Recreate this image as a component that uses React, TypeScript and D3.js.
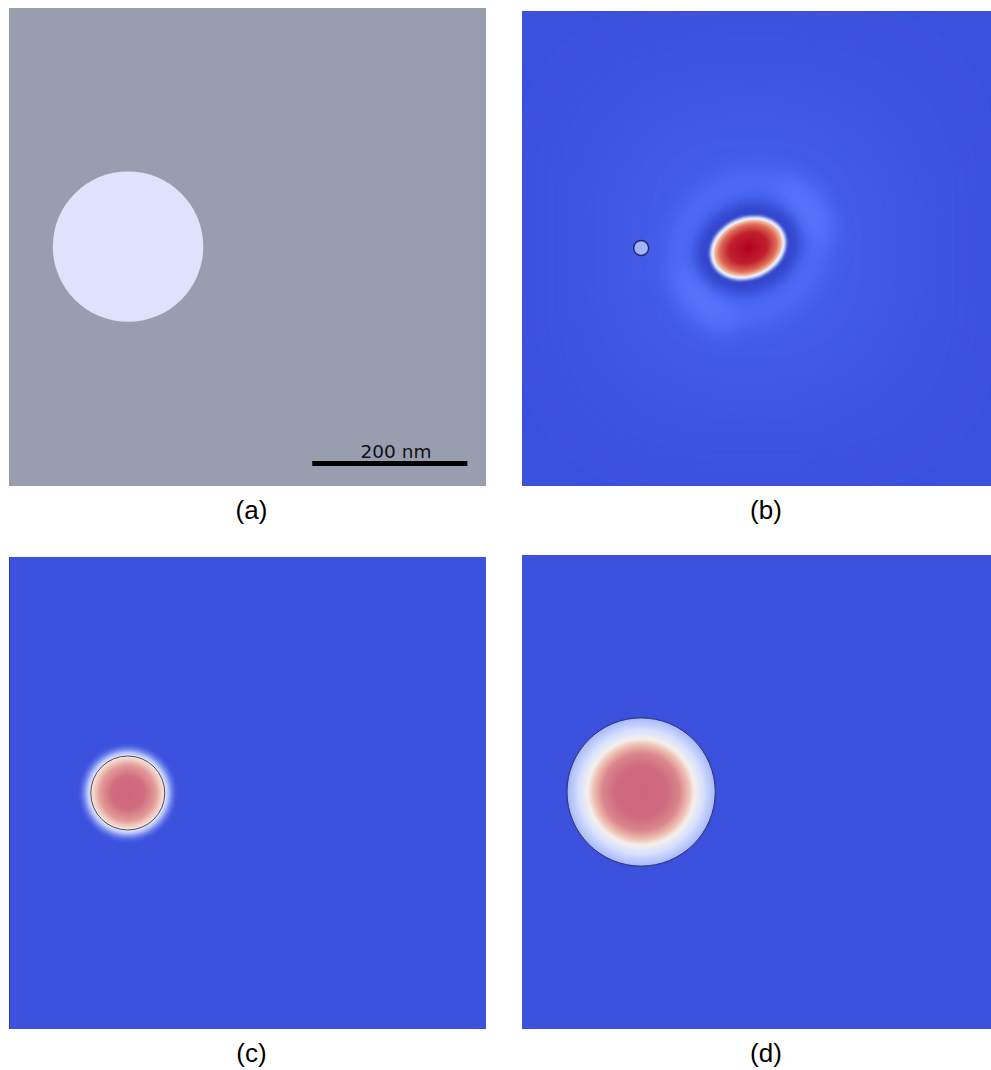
import React from "react";
import * as d3 from "d3";

// Panel frames in page pixels: [id, left, top, width, height]
const panelIds = ["a", "b", "c", "d"];
const panelLeft = [9, 522, 9, 522];
const panelTop = [8, 11, 557, 555];
const panelWidth = [477, 469, 477, 469];
const panelHeight = [478, 475, 472, 474];
const panelCaptions = ["(a)", "(b)", "(c)", "(d)"];

// Panel (a): geometry in nanometres
const geomExtentNm = [615, 617];
const particleA = { cx: 153.5, cy: 308, r: 97 };
const scaleBarNm = { x0: 391, x1: 591, y: 588, labelX: 499, label: "200 nm" };

// Panels (b)-(d): positions as fractions of the panel width/height
const probeB = { cx: 0.254, cy: 0.499, r: 0.016 };
const spotB = { cx: 0.482, cy: 0.499, rx: 0.076, ry: 0.058, angle: -22 };
const particleC = { cx: 0.249, cy: 0.5, r: 0.0776 };
const particleD = { cx: 0.254, cy: 0.5, r: 0.158 };

const field = "#3c51de";

function Frame({ i, children }: { i: number; children: React.ReactNode }) {
  return (
    <g transform={`translate(${panelLeft[i]},${panelTop[i]})`}>
      <defs>
        <clipPath id={`clip-${panelIds[i]}`}>
          <rect width={panelWidth[i]} height={panelHeight[i]} />
        </clipPath>
      </defs>
      <g clipPath={`url(#clip-${panelIds[i]})`}>{children}</g>
    </g>
  );
}

export default function App() {
  // panel (a) scales in nm
  const ax = d3.scaleLinear().domain([0, geomExtentNm[0]]).range([0, panelWidth[0]]);
  const ay = d3.scaleLinear().domain([0, geomExtentNm[1]]).range([0, panelHeight[0]]);

  const fx = (i: number) => d3.scaleLinear().domain([0, 1]).range([0, panelWidth[i]]);
  const fy = (i: number) => d3.scaleLinear().domain([0, 1]).range([0, panelHeight[i]]);

  const bx = fx(1), by = fy(1);
  const cx = fx(2), cy = fy(2);
  const dx = fx(3), dy = fy(3);

  const sbx = bx(spotB.cx), sby = by(spotB.cy);
  const srx = bx(spotB.rx) - bx(0), sry = bx(spotB.ry) - bx(0);

  return (
    <svg width={991} height={1070} style={{ display: "block", position: "absolute", left: 0, top: 0 }}>
      <defs>
        <filter id="blur2" x="-50%" y="-50%" width="200%" height="200%">
          <feGaussianBlur stdDeviation={1.4} />
        </filter>
        <filter id="blur6" x="-50%" y="-50%" width="200%" height="200%">
          <feGaussianBlur stdDeviation={6} />
        </filter>
        <filter id="blur10" x="-50%" y="-50%" width="200%" height="200%">
          <feGaussianBlur stdDeviation={11} />
        </filter>
        <filter id="blur40" x="-50%" y="-50%" width="200%" height="200%">
          <feGaussianBlur stdDeviation={40} />
        </filter>
        <radialGradient id="redCore" cx="50%" cy="50%" r="50%">
          <stop offset="0" stopColor="#b1001f" />
          <stop offset="0.55" stopColor="#c0202e" />
          <stop offset="0.82" stopColor="#de6a55" />
          <stop offset="0.95" stopColor="#f0b49c" />
          <stop offset="1" stopColor="#f5d8c8" />
        </radialGradient>
        <radialGradient id="haloC" cx="50%" cy="50%" r="50%">
          <stop offset="0.7" stopColor="#ffffff" stopOpacity={1} />
          <stop offset="0.8" stopColor="#c8d6ff" stopOpacity={0.8} />
          <stop offset="1" stopColor={field} stopOpacity={0} />
        </radialGradient>
        <radialGradient id="fillC" cx="50%" cy="50%" r="50%">
          <stop offset="0" stopColor="#cf667e" />
          <stop offset="0.45" stopColor="#d16d80" />
          <stop offset="0.75" stopColor="#e39b97" />
          <stop offset="0.92" stopColor="#f3d2c8" />
          <stop offset="1" stopColor="#f6e6e0" />
        </radialGradient>
        <radialGradient id="fillD" cx="50%" cy="50%" r="50%">
          <stop offset="0" stopColor="#cf667e" />
          <stop offset="0.35" stopColor="#d06a80" />
          <stop offset="0.52" stopColor="#da868c" />
          <stop offset="0.64" stopColor="#eebfb2" />
          <stop offset="0.72" stopColor="#f4efec" />
          <stop offset="0.84" stopColor="#d6e0ff" />
          <stop offset="1" stopColor="#a7b7f6" />
        </radialGradient>
        <radialGradient id="glowD" cx="50%" cy="50%" r="50%">
          <stop offset="0.9" stopColor="#2a3fc0" stopOpacity={0.35} />
          <stop offset="1" stopColor={field} stopOpacity={0} />
        </radialGradient>
        <radialGradient id="fieldB" cx="48%" cy="50%" r="60%">
          <stop offset="0" stopColor="#4863f0" />
          <stop offset="0.5" stopColor="#435be7" />
          <stop offset="1" stopColor="#3d53dd" />
        </radialGradient>
      </defs>

      {/* (a) geometry */}
      <Frame i={0}>
        <rect width={panelWidth[0]} height={panelHeight[0]} fill="#989eb0" />
        <circle cx={ax(particleA.cx)} cy={ay(particleA.cy)} r={ax(particleA.r)} fill="#dde3fc" />
        <line
          x1={ax(scaleBarNm.x0)}
          x2={ax(scaleBarNm.x1)}
          y1={ay(scaleBarNm.y)}
          y2={ay(scaleBarNm.y)}
          stroke="#000"
          strokeWidth={5}
        />
        <text
          x={ax(scaleBarNm.labelX)}
          y={ay(scaleBarNm.y) - 6}
          textAnchor="middle"
          fontFamily="DejaVu Sans, sans-serif"
          fontSize={18.5}
          fill="#111"
        >
          {scaleBarNm.label}
        </text>
      </Frame>

      {/* (b) field with a tilted hot spot next to a small probe */}
      <Frame i={1}>
        <rect width={panelWidth[1]} height={panelHeight[1]} fill={field} />
        <rect
          x={60}
          y={60}
          width={panelWidth[1] - 120}
          height={panelHeight[1] - 120}
          rx={90}
          fill="url(#fieldB)"
          filter="url(#blur40)"
        />
        {/* outer light ring */}
        <g transform={`translate(${sbx},${sby}) rotate(-38)`}>
          <ellipse rx={74} ry={62} fill="none" stroke="#5878ff" strokeWidth={24} opacity={0.6} filter="url(#blur10)" />
          <ellipse cx={-66} cy={16} rx={20} ry={40} fill="#5b7dff" opacity={0.55} filter="url(#blur10)" />
          <ellipse cx={70} cy={6} rx={18} ry={38} fill="#5b7dff" opacity={0.55} filter="url(#blur10)" />
        </g>
        {/* dark depletion ring, white rim and hot core */}
        <g transform={`translate(${sbx},${sby}) rotate(${spotB.angle})`}>
          <ellipse rx={srx + 17} ry={sry + 17} fill="#3045cc" filter="url(#blur6)" />
          <ellipse rx={srx + 3.5} ry={sry + 3.5} fill="#eef3ff" filter="url(#blur2)" />
          <ellipse rx={srx} ry={sry} fill="url(#redCore)" />
        </g>
        <circle
          cx={bx(probeB.cx)}
          cy={by(probeB.cy)}
          r={bx(probeB.r)}
          fill="#a3b3fb"
          stroke="#1d2a66"
          strokeWidth={1.4}
        />
      </Frame>

      {/* (c) small heated particle */}
      <Frame i={2}>
        <rect width={panelWidth[2]} height={panelHeight[2]} fill={field} />
        <line x1={0.5} x2={0.5} y1={0} y2={panelHeight[2]} stroke="#2d3aa0" strokeWidth={1} />
        <circle cx={cx(particleC.cx)} cy={cy(particleC.cy)} r={cx(particleC.r) + 14} fill="url(#haloC)" />
        <circle
          cx={cx(particleC.cx)}
          cy={cy(particleC.cy)}
          r={cx(particleC.r)}
          fill="url(#fillC)"
          stroke="#4a4a55"
          strokeWidth={1}
        />
      </Frame>

      {/* (d) large heated particle */}
      <Frame i={3}>
        <rect width={panelWidth[3]} height={panelHeight[3]} fill={field} />
        <circle cx={dx(particleD.cx)} cy={dy(particleD.cy)} r={dx(particleD.r) + 6} fill="url(#glowD)" />
        <circle
          cx={dx(particleD.cx)}
          cy={dy(particleD.cy)}
          r={dx(particleD.r)}
          fill="url(#fillD)"
          stroke="#2e3470"
          strokeWidth={1}
        />
      </Frame>

      {/* captions */}
      {panelIds.map((id, i) => (
        <text
          key={id}
          x={panelLeft[i] + panelWidth[i] / 2 + (i % 2 === 0 ? 4 : 9.5)}
          y={(i < 2 ? 486 : 1029) + 33}
          textAnchor="middle"
          fontFamily="Liberation Sans, Arial, sans-serif"
          fontSize={26}
          fill="#000"
        >
          {panelCaptions[i]}
        </text>
      ))}
    </svg>
  );
}
